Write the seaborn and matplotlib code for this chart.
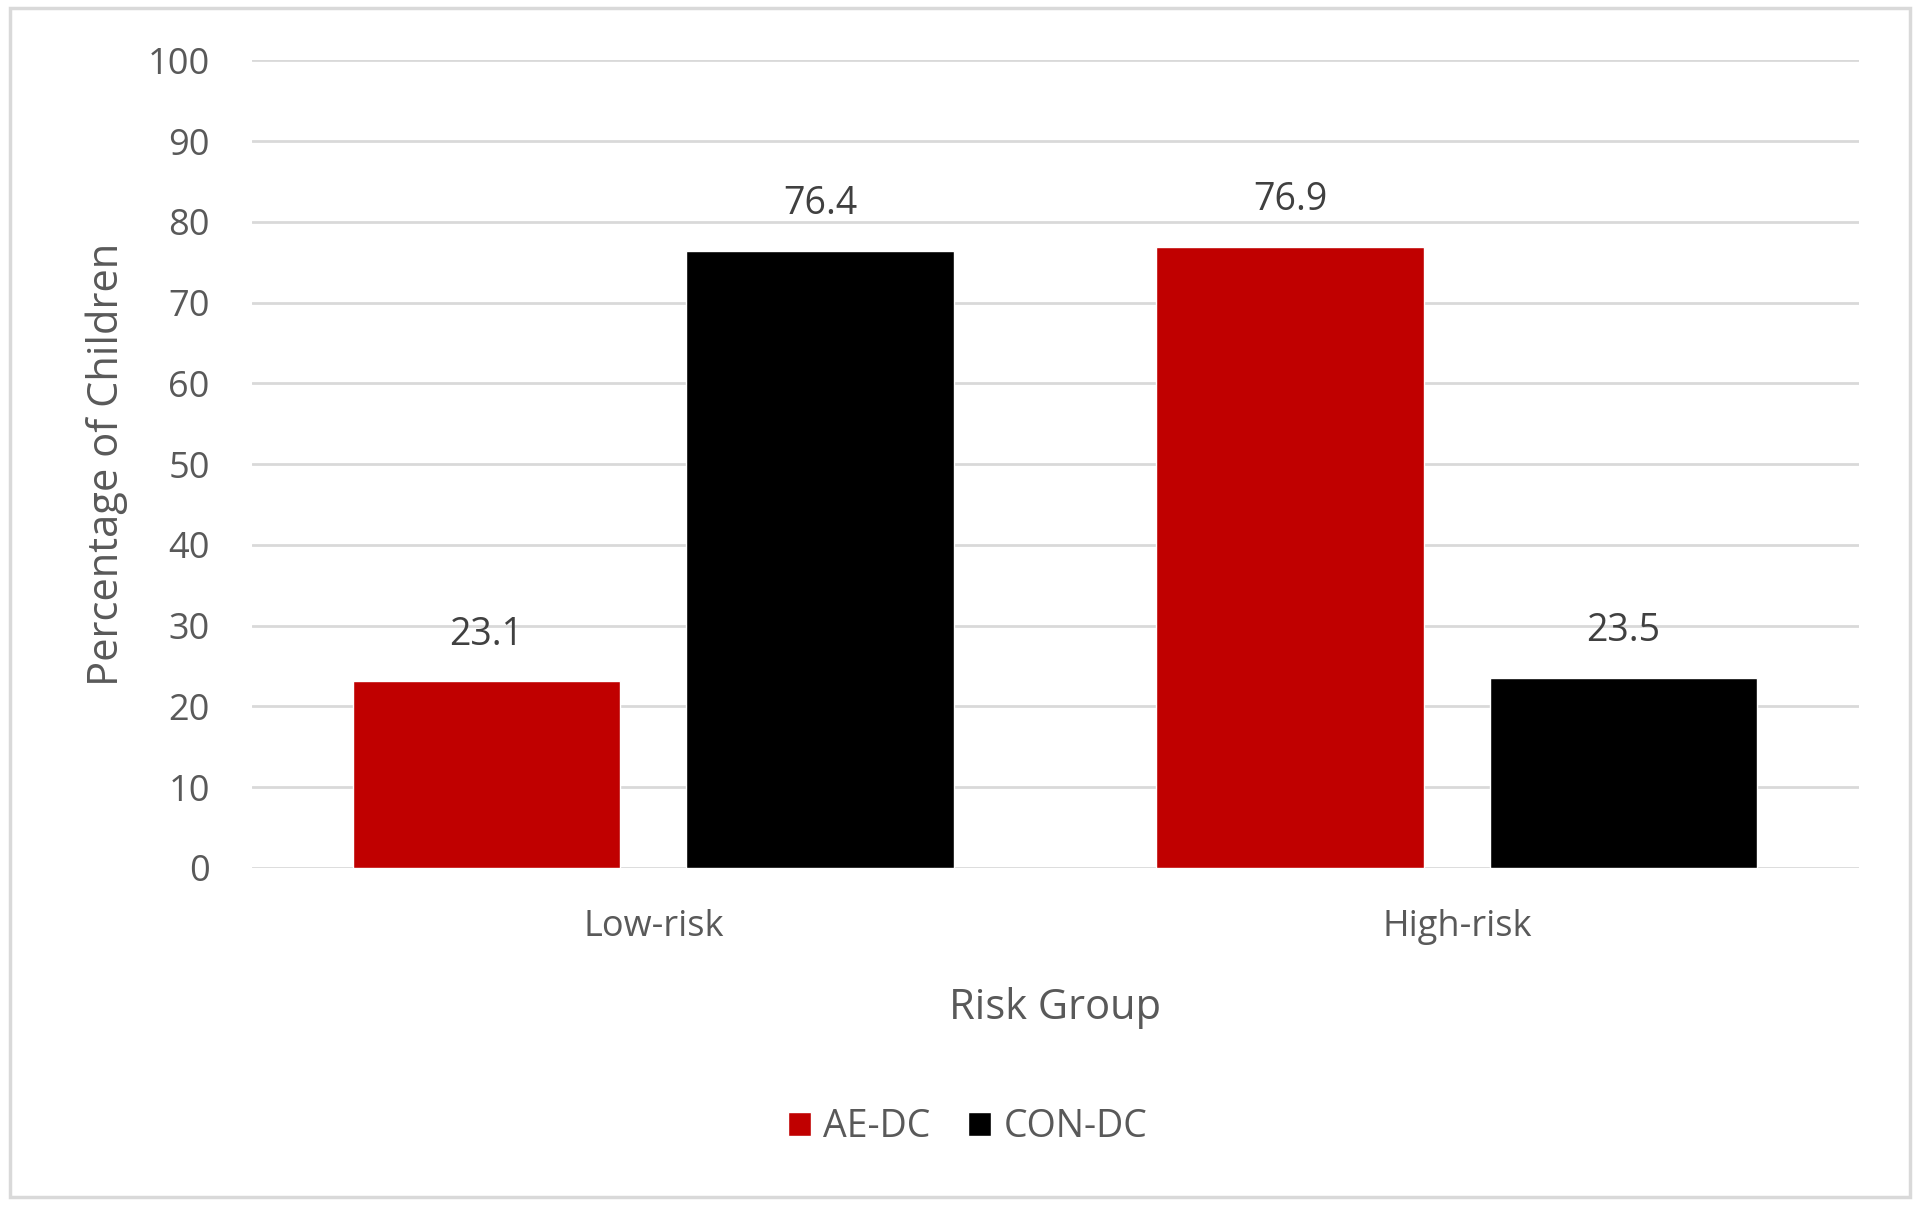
import matplotlib
matplotlib.use("Agg")
import matplotlib.pyplot as plt
import pandas as pd
import seaborn as sns
from matplotlib.patches import Rectangle

# data
groups = ["Low-risk", "High-risk"]
series = ["AE-DC", "CON-DC"]
ae_dc = [23.1, 76.9]
con_dc = [76.4, 23.5]
colors = {"AE-DC": "#c00000", "CON-DC": "#000000"}

df = pd.DataFrame({
    "Risk Group": groups * 2,
    "Group": [series[0]] * 2 + [series[1]] * 2,
    "Percentage": ae_dc + con_dc,
})

sns.set_style("white")
plt.rcParams["font.family"] = ["Open Sans", "DejaVu Sans"]
grey = "#595959"

fig = plt.figure(figsize=(19.2, 12.07), dpi=100)
ax = fig.add_axes([0.131, 0.281, 0.837, 0.669])

sns.barplot(data=df, x="Risk Group", y="Percentage", hue="Group",
            order=groups, hue_order=series, palette=colors, saturation=1,
            width=0.83, gap=0.197, ax=ax, legend=True)

for cont in ax.containers:
    ax.bar_label(cont, fmt="%.1f", padding=20, fontsize=27, color="#404040")

ax.set_ylim(0, 100)
ax.set_xlim(-0.5, 1.5)
ax.set_yticks(range(0, 101, 10))
ax.yaxis.grid(True, color="#d9d9d9", linewidth=2)
ax.set_axisbelow(True)
for s in ax.spines.values():
    s.set_visible(False)
ax.tick_params(axis="both", length=0, labelsize=26, labelcolor=grey)
ax.tick_params(axis="y", pad=30)
ax.tick_params(axis="x", pad=30)
ax.set_xlabel("Risk Group", fontsize=30, color=grey, labelpad=30)
ax.set_ylabel("Percentage of Children", fontsize=30, color=grey, labelpad=14)

# legend sits centred on the figure, not the axes
handles, labels = ax.get_legend_handles_labels()
ax.get_legend().remove()
fig.legend(handles, labels, loc="center", bbox_to_anchor=(0.504, 0.066), ncol=2,
           frameon=False, fontsize=27, labelcolor=grey, handlelength=0.62,
           handleheight=0.62, handletextpad=0.33, columnspacing=1.0)

fig.patches.append(Rectangle((0.005, 0.008), 0.99, 0.985, transform=fig.transFigure,
                             fill=False, edgecolor="#d9d9d9", linewidth=2.5))

fig.savefig("out.png", dpi=100, facecolor="white")
